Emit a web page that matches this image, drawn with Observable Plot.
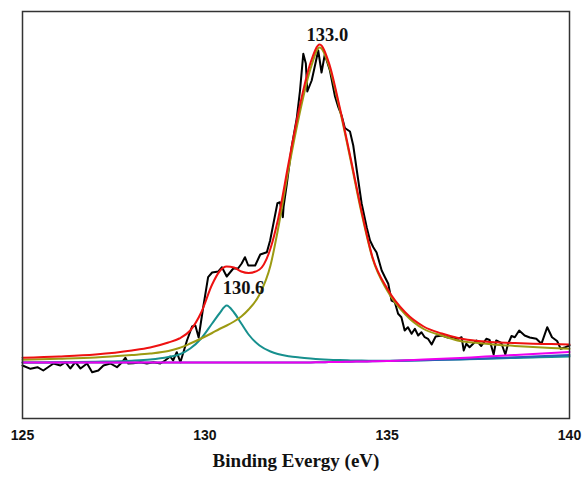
<!DOCTYPE html>
<html><head><meta charset="utf-8">
<script src="https://cdn.jsdelivr.net/npm/d3@7"></script>
<script src="https://cdn.jsdelivr.net/npm/@observablehq/plot@0.6"></script>
<style>body{margin:0;background:#fff}</style>
</head><body><div id="chart"></div>
<script>
// Raw spectrum (binding energy in eV, intensity in arbitrary units)
const rawEnergy = [125.00,125.22,125.41,125.57,125.85,126.04,126.18,126.31,126.45,126.59,126.77,126.91,127.08,127.22,127.41,127.59,127.73,127.82,127.90,128.04,128.23,128.41,128.59,128.78,128.91,129.05,129.13,129.23,129.33,129.51,129.65,129.74,129.83,129.95,130.09,130.20,130.37,130.47,130.60,130.78,130.91,131.01,131.10,131.19,131.38,131.52,131.70,131.79,131.99,132.06,132.14,132.16,132.25,132.38,132.52,132.61,132.70,132.77,132.81,132.93,133.07,133.11,133.20,133.29,133.43,133.57,133.66,133.75,133.84,133.98,134.07,134.16,134.30,134.44,134.53,134.62,134.71,134.85,134.94,135.03,135.12,135.21,135.30,135.39,135.48,135.57,135.67,135.76,135.85,135.94,136.03,136.12,136.22,136.33,136.50,136.66,136.81,136.94,137.04,137.10,137.17,137.26,137.45,137.58,137.72,137.81,137.92,137.99,138.13,138.24,138.31,138.41,138.50,138.62,138.77,138.91,139.09,139.23,139.39,139.52,139.66,139.76,139.89,140.00];
const rawCounts = [53,49.7,51.3,48,55,53,56.3,50,56.3,50,55,46.3,48,53,55,51.3,56.3,60.7,55,55.3,56.3,55,56.3,55,58,62,58,66.3,56.3,78,92,93,81,110,141.3,146,147,151.3,142,150,150,155,161.3,153,153,164,166.3,178,215.3,216.3,201.3,212,235,271.3,300,328,364.7,355,327,338,361.3,368,346,364,348,322,311.3,303,290.5,287,273,250,215,191,178,171.3,166,148,141.3,134.7,118,116.3,104.7,101.3,88,91.3,84.7,89.7,83,86.3,81.3,79.7,74,82,83,81,81.3,79.7,81.3,68,74.7,71.3,78,72.5,79.7,78.5,64,78,75.5,64,74,82.5,81.3,88,83,81,79.7,74.7,91.3,81.3,77.5,69.7,71.3,73];

// Fitted curves, sampled on a common energy grid
const fitEnergy = [125,126,127,128,128.5,129,129.3,129.6,129.9,130.2,130.4,130.6,130.8,131,131.2,131.5,131.8,132,132.3,132.6,132.9,133.15,133.4,133.7,134,134.3,134.6,135,135.5,136,136.5,137,137.5,138,138.5,139,139.5,140];
const envelope = [60.7,62,64,68,71,76,80,88,106,134,147,152,151,147,145.5,149,170,198,256,312,356,374,356,311,260,207,161,130,106,92,85,80,77.5,76.2,75.4,74.8,74.4,74];
const peak1330 = [58.7,59.7,61,63.5,65,67.5,70.5,75,80,85.5,89.5,93,97,102,109,124,153,188,250,305,350,371,353,309,258,205,160,128,104,89.5,83,77.5,75.5,73.8,72.6,71.5,70.5,69.7];
const peak1306 = [56,56.3,56.8,57.8,59,61.5,64,70,80,95,105,113,106,95,84,73,67,64.5,62.3,61,60,59.3,58.8,58.4,58.1,57.9,57.8,57.8,58,58.3,58.7,59.1,59.6,60.1,60.6,61.1,61.6,62];
const backgroundA = [56,56,56,56,56,56,56,56,56,56,56,56,56,56,56,56,56,56,56,56,56,56.3,56.4,56.6,56.8,57,57.2,57.5,57.8,58.3,58.8,59.3,59.8,60.5,61.2,62,62.8,63.5];
const backgroundB = [56,56,56,56,56,56,56,56,56,56,56,56,56,56,56,56,56,56,56,56,56,56.3,56.4,56.6,56.8,57,57.2,57.5,58.2,59,59.8,60.5,61.5,62.5,63.5,64.5,65.5,66.5];

const xTicks = [125,130,135,140];
const peakLabels = ["133.0","130.6"];
const peakLabelEnergy = [133.36,131.06];
const peakLabelIntensity = [378,124.7];
const xTitle = "Binding Evergy (eV)";

const raw = rawEnergy.map((e,i)=>({e, v: rawCounts[i]}));
const fit = (arr) => fitEnergy.map((e,i)=>({e, v: arr[i]}));
const labels = peakLabels.map((t,i)=>({t, e: peakLabelEnergy[i], v: peakLabelIntensity[i]}));

const serif = "'Liberation Serif','Times New Roman',serif";
const sans = "'Liberation Sans',Arial,sans-serif";

const chart = Plot.plot({
  width: 583, height: 477,
  marginLeft: 22, marginRight: 14, marginTop: 11, marginBottom: 59,
  style: {background: "#fff"},
  x: {domain: [125,140], axis: null},
  y: {domain: [0,407], axis: null},
  marks: [
    Plot.line(raw, {x:"e", y:"v", stroke:"#000", strokeWidth:2}),
    Plot.line(fit(peak1306), {x:"e", y:"v", stroke:"#17908e", strokeWidth:2, curve:"monotone-x"}),
    Plot.line(fit(backgroundA), {x:"e", y:"v", stroke:"#2a5ab8", strokeWidth:2, curve:"monotone-x"}),
    Plot.line(fit(backgroundB), {x:"e", y:"v", stroke:"#ee00ee", strokeWidth:2, curve:"monotone-x"}),
    Plot.line(fit(peak1330), {x:"e", y:"v", stroke:"#9c9a12", strokeWidth:2, curve:"monotone-x"}),
    Plot.line(fit(envelope), {x:"e", y:"v", stroke:"#ee1111", strokeWidth:2, curve:"monotone-x"}),
    Plot.text(labels, {x:"e", y:"v", text:"t", lineAnchor:"bottom", fontSize:18.5, fontWeight:"bold", fontFamily:serif, fill:"#111"}),
    Plot.axisX(xTicks, {tickSize:0, tickPadding:12, fontSize:14, fontWeight:"bold", fontFamily:sans, fill:"#111", label:null}),
    Plot.text([xTitle], {frameAnchor:"bottom", dy:48, fontSize:19, fontWeight:"bold", fontFamily:serif, fill:"#111"}),
    Plot.frame({stroke:"#333", strokeWidth:1.5})
  ]
});
document.getElementById("chart").appendChild(chart);
</script>
</body></html>
